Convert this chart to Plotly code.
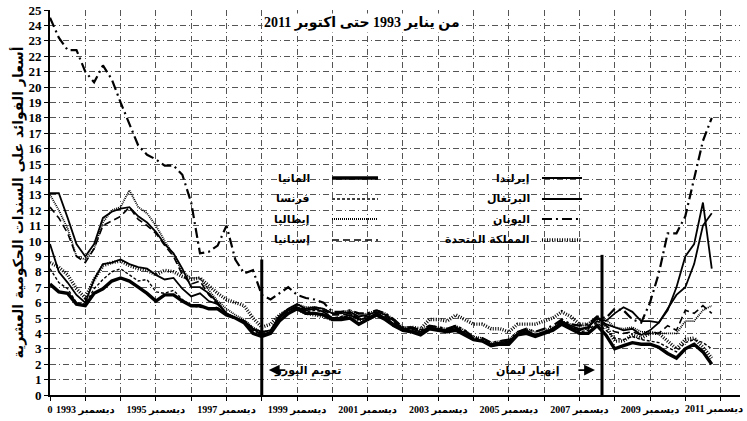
import plotly.graph_objects as go

# ---------------- data (quarterly: Jan, Apr, Jul, Oct; Jan 1993 - Oct 2011) ----------------
START_YEAR = 1993
germany = [7.2, 6.7, 6.6, 5.9, 5.8, 6.6, 6.9, 7.4, 7.6, 7.4, 7.0, 6.6, 6.1, 6.5, 6.5, 6.1,
           5.8, 5.8, 5.6, 5.6, 5.2, 5.0, 4.7, 4.0, 3.8, 4.0, 4.8, 5.3, 5.6, 5.3, 5.3, 5.2,
           4.9, 4.9, 5.0, 4.6, 4.9, 5.2, 4.9, 4.5, 4.2, 4.1, 3.9, 4.3, 4.2, 4.1, 4.2, 3.9,
           3.6, 3.5, 3.2, 3.3, 3.3, 3.9, 4.0, 3.8, 4.0, 4.2, 4.6, 4.3, 4.0, 4.0, 4.5, 3.9,
           3.0, 3.2, 3.4, 3.3, 3.3, 3.1, 2.7, 2.4, 3.0, 3.3, 2.8, 2.0]
france = [8.2, 7.3, 6.9, 6.0, 5.9, 6.9, 7.5, 8.0, 8.2, 7.8, 7.4, 7.5, 6.7, 6.6, 6.8, 6.2,
          5.8, 5.7, 5.6, 5.7, 5.2, 5.0, 4.8, 4.2, 3.9, 4.1, 5.0, 5.5, 5.7, 5.4, 5.5, 5.4,
          5.0, 5.1, 5.3, 4.9, 5.0, 5.3, 5.0, 4.6, 4.2, 4.2, 4.0, 4.3, 4.3, 4.2, 4.4, 4.1,
          3.7, 3.6, 3.3, 3.4, 3.4, 3.9, 4.1, 3.9, 4.1, 4.3, 4.6, 4.4, 4.1, 4.2, 4.7, 4.2,
          3.7, 3.6, 3.8, 3.6, 3.5, 3.4, 3.1, 2.8, 3.4, 3.6, 3.4, 3.0]
italy = [13.0, 12.0, 10.8, 9.0, 8.8, 9.5, 11.2, 12.0, 12.2, 13.3, 12.2, 11.8, 11.0, 10.0, 9.1, 8.0,
         7.6, 7.6, 6.8, 6.1, 5.6, 5.2, 4.9, 4.4, 4.1, 4.2, 5.2, 5.6, 5.9, 5.7, 5.7, 5.6,
         5.3, 5.4, 5.5, 5.2, 5.3, 5.5, 5.3, 4.9, 4.4, 4.4, 4.2, 4.5, 4.4, 4.3, 4.5, 4.2,
         3.8, 3.7, 3.4, 3.5, 3.6, 4.1, 4.3, 4.1, 4.2, 4.4, 4.8, 4.6, 4.5, 4.5, 5.0, 4.9,
         4.4, 4.3, 4.4, 4.1, 4.1, 4.0, 4.0, 4.0, 4.8, 4.8, 5.5, 5.8]
spain = [12.2, 11.5, 10.5, 9.0, 8.6, 9.5, 11.0, 11.3, 11.6, 12.2, 11.4, 11.0, 10.5, 9.7, 9.0, 7.8,
         7.2, 7.4, 6.5, 5.9, 5.3, 5.0, 4.8, 4.3, 4.0, 4.1, 5.0, 5.5, 5.8, 5.5, 5.6, 5.5,
         5.2, 5.2, 5.3, 5.0, 5.1, 5.3, 5.1, 4.7, 4.3, 4.2, 4.0, 4.3, 4.3, 4.2, 4.4, 4.0,
         3.6, 3.5, 3.3, 3.4, 3.4, 3.9, 4.1, 3.9, 4.1, 4.3, 4.7, 4.4, 4.2, 4.3, 4.8, 4.5,
         4.1, 4.0, 4.1, 3.9, 4.0, 4.0, 4.5, 4.2, 5.5, 5.3, 5.8, 5.3]
ireland = [9.8, 8.0, 7.3, 6.5, 6.0, 7.5, 8.5, 8.6, 8.8, 8.5, 8.3, 8.2, 7.8, 7.5, 7.6, 6.9,
           6.4, 6.6, 6.1, 5.9, 5.3, 5.0, 4.8, 4.3, 3.9, 4.1, 5.0, 5.5, 5.7, 5.5, 5.6, 5.4,
           5.0, 5.0, 5.2, 4.9, 5.0, 5.3, 5.0, 4.6, 4.2, 4.1, 4.0, 4.3, 4.3, 4.1, 4.3, 4.0,
           3.6, 3.5, 3.2, 3.3, 3.4, 3.9, 4.1, 3.8, 4.0, 4.3, 4.7, 4.4, 4.2, 4.4, 5.0, 4.8,
           5.3, 5.7, 5.4, 4.8, 4.8, 4.7, 5.5, 7.0, 9.0, 9.8, 12.5, 8.2]
portugal = [13.1, 13.1, 11.5, 9.8, 9.0, 9.8, 11.5, 11.9, 12.1, 12.2, 11.6, 11.2, 10.6, 9.8, 9.2, 8.2,
            7.0, 7.0, 6.6, 6.0, 5.3, 5.0, 4.8, 4.3, 4.1, 4.2, 5.1, 5.6, 5.9, 5.6, 5.7, 5.6,
            5.3, 5.3, 5.4, 5.1, 5.2, 5.4, 5.2, 4.8, 4.3, 4.3, 4.1, 4.4, 4.3, 4.2, 4.4, 4.0,
            3.6, 3.5, 3.3, 3.4, 3.5, 4.0, 4.2, 3.9, 4.1, 4.3, 4.8, 4.5, 4.3, 4.4, 5.0, 4.6,
            4.4, 4.2, 4.3, 3.9, 4.2, 4.7, 5.6, 6.5, 7.0, 8.5, 11.0, 11.8]
greece = [24.5, 23.2, 22.4, 22.4, 21.0, 20.3, 21.4, 20.5, 19.0, 17.6, 16.2, 15.6, 15.3, 14.9, 14.9, 14.3,
          12.5, 9.2, 9.3, 9.7, 11.0, 8.8, 7.9, 8.1, 6.5, 6.2, 6.6, 7.0, 6.5, 6.3, 6.2, 6.0,
          5.4, 5.4, 5.5, 5.3, 5.3, 5.5, 5.3, 4.9, 4.4, 4.4, 4.2, 4.5, 4.4, 4.3, 4.5, 4.2,
          3.7, 3.7, 3.4, 3.5, 3.6, 4.1, 4.3, 4.1, 4.3, 4.5, 4.9, 4.6, 4.5, 4.6, 5.1, 5.0,
          5.6, 5.5, 4.9, 4.7, 6.0, 7.9, 10.5, 10.5, 11.6, 14.0, 16.5, 18.0]
uk = [8.6, 8.3, 7.8, 6.9, 6.3, 7.5, 8.4, 8.6, 8.7, 8.4, 8.2, 8.1, 7.8, 8.1, 8.0, 7.7,
      7.5, 7.6, 7.1, 6.6, 6.2, 6.0, 5.8, 5.0, 4.4, 4.6, 5.2, 5.5, 5.6, 5.3, 5.2, 5.1,
      4.9, 5.0, 5.2, 4.9, 4.9, 5.2, 5.0, 4.5, 4.3, 4.4, 4.3, 4.9, 4.9, 4.8, 5.2, 4.9,
      4.6, 4.6, 4.3, 4.3, 4.1, 4.6, 4.6, 4.6, 4.8, 5.0, 5.4, 5.1, 4.6, 4.6, 5.0, 4.5,
      3.5, 3.5, 3.9, 3.7, 4.0, 4.0, 3.5, 3.0, 3.6, 3.7, 3.1, 2.4]

series_names = ["المانيا", "فرنسا", "إيطاليا", "إسبانيا",
                "إيرلندا", "البرتغال", "اليونان", "المملكة المتحدة"]
series_values = [germany, france, italy, spain, ireland, portugal, greece, uk]

tick_years = list(range(1993, 2013))
tick_labels = ["0" if y == 1993 else (f"ديسمبر {y - 1}" if (y - 1993) % 2 == 1 else "")
               for y in tick_years]
last_label = tick_labels[-1]
tick_labels_axis = tick_labels[:-1] + [""]   # last one drawn as an edge-aligned label

events = [1999.0, 2008.64]          # euro launch, Lehman collapse
event_tops = [8.8, 9.1]
event_labels = ["تعويم اليورو", "إنهيار ليمان"]

title_text = "من يناير 1993 حتى اكتوبر 2011"
y_title = "أسعار الفوائد على السندات الحكومية العشرية"

# ---------------- styles ----------------
styles = [
    dict(width=3.4, dash="solid"),        # Germany
    dict(width=1.4, dash="3px,2px"),      # France
    dict(width=1.8, dash="1px,1px"),      # Italy
    dict(width=1.6, dash="7px,4px"),      # Spain
    dict(width=1.8, dash="solid"),        # Ireland
    dict(width=1.8, dash="solid"),        # Portugal
    dict(width=2.2, dash="10px,4px,2px,4px"),  # Greece
    dict(width=3.4, dash="1px,1.5px"),    # UK
]

n = len(germany)
x_vals = [START_YEAR + i * 0.25 for i in range(n)]

fig = go.Figure()
for name, vals, st in zip(series_names, series_values, styles):
    fig.add_trace(go.Scatter(x=x_vals, y=vals, mode="lines", name=name,
                             line=dict(color="black", width=st["width"], dash=st["dash"]),
                             showlegend=False))

MIX = "Liberation Serif, DejaVu Sans"
num_font = dict(family=MIX, size=13, color="black", weight="bold")
ar_font = dict(family="DejaVu Sans", size=11, color="black", weight="bold")
xtick_font = dict(family=MIX, size=10, color="black", weight="bold")

grid = dict(showgrid=True, gridcolor="#555", gridwidth=1, griddash="6px,3px,1px,3px")

fig.update_xaxes(range=[1993, 2012.55], tickmode="array", tickvals=tick_years,
                 ticktext=tick_labels_axis,
                 tickangle=0, automargin=False, ticklabeloverflow="allow",
                 ticks="outside", ticklen=4, tickcolor="black", showline=True, linecolor="black",
                 linewidth=2, zeroline=False, tickfont=xtick_font, **grid)
fig.update_yaxes(range=[0, 25], tick0=0, dtick=1, ticks="outside", ticklen=4, tickcolor="black",
                 automargin=False,
                 showline=True, linecolor="black", linewidth=2, zeroline=False, tickfont=num_font,
                 title=dict(text=y_title, font=dict(family="DejaVu Sans", size=14, color="black",
                                                    weight="bold"), standoff=2), **grid)

# last x tick label, kept inside the page
fig.add_annotation(xref="paper", yref="paper", x=1.0075, y=-0.036, xanchor="right",
                   yanchor="middle", text=last_label, showarrow=False, font=xtick_font)

# event lines and labels
for ev, top in zip(events, event_tops):
    fig.add_shape(type="line", x0=ev, x1=ev, y0=0, y1=top, xref="x", yref="y",
                  line=dict(color="black", width=3))

fig.add_annotation(x=events[0] + 1.3, y=1.62, text=event_labels[0], showarrow=False,
                   font=dict(family="DejaVu Sans", size=11, color="black", weight="bold"))
fig.add_annotation(x=events[0] + 0.2, y=1.62, ax=18, ay=0, text="", showarrow=True,
                   arrowhead=2, arrowsize=1.2, arrowwidth=1.8, arrowcolor="black")
fig.add_annotation(x=events[1] - 2.1, y=1.62, text=event_labels[1], showarrow=False,
                   font=dict(family="DejaVu Sans", size=11, color="black", weight="bold"))
fig.add_annotation(x=events[1] - 0.2, y=1.62, ax=-18, ay=0, text="", showarrow=True,
                   arrowhead=2, arrowsize=1.2, arrowwidth=1.8, arrowcolor="black")

# title
fig.add_annotation(xref="paper", yref="paper", x=0.452, y=0.966, yanchor="middle",
                   text=title_text, showarrow=False,
                   font=dict(family=MIX, size=14, color="black", weight="bold"),
                   bgcolor="white")

# manual legend (text left of sample, RTL style)
rows_y = [0.5636, 0.5091, 0.4571, 0.4026]
cols = [dict(text_x=0.3797, l0=0.4087, l1=0.4754), dict(text_x=0.6986, l0=0.713, l1=0.771)]
for i, (name, st) in enumerate(zip(series_names, styles)):
    c = cols[i // 4]
    yy = rows_y[i % 4]
    fig.add_annotation(xref="paper", yref="paper", x=c["text_x"], y=yy, xanchor="right",
                       yanchor="middle", text=name, showarrow=False, font=ar_font)
    fig.add_shape(type="line", xref="paper", yref="paper", x0=c["l0"], x1=c["l1"], y0=yy, y1=yy,
                  line=dict(color="black", width=st["width"], dash=st["dash"]))

fig.update_layout(width=747, height=421, margin=dict(l=50, r=7, t=10, b=26),
                  paper_bgcolor="white", plot_bgcolor="white", showlegend=False)

fig.write_html("out.html", config={"displayModeBar": False},
               post_script="document.body.style.margin='0';document.body.style.overflow='hidden';")
